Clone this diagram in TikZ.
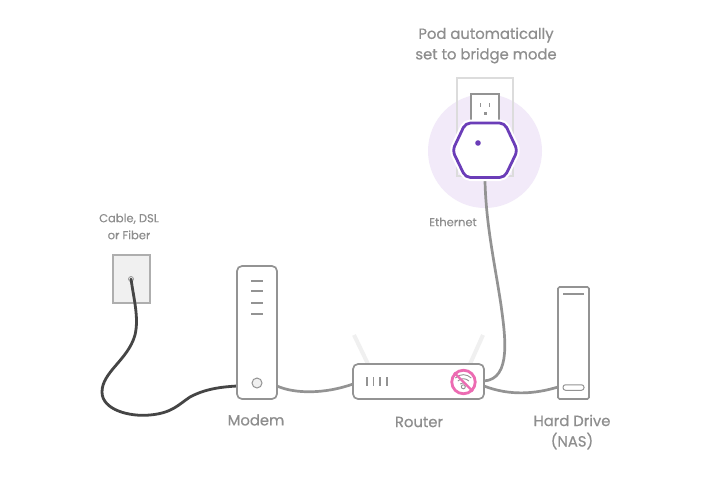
\documentclass[tikz,border=0pt]{standalone}
\usepackage{fontspec}
\setmainfont{Poppins}
\newfontfamily\heavylabel{Poppins}[FakeBold=0.5]
\newfontfamily\lightlabel{Poppins}[FakeBold=0.15]
\usetikzlibrary{calc}
\definecolor{linegray}{HTML}{939393}
\definecolor{textgray}{HTML}{8E8E8E}
\definecolor{palegray}{HTML}{DCDCDC}
\definecolor{antenna}{HTML}{F0F0F0}
\definecolor{podpurple}{HTML}{6B3DB8}
\definecolor{halo}{HTML}{F2EAF9}
\definecolor{nopink}{HTML}{EC6BB2}
\definecolor{coax}{HTML}{454545}
\tikzset{
  x=1pt,y=-1pt,
  device/.style={draw=linegray,line width=1.7pt,fill=white,rounded corners=#1,inner sep=0pt},
  device/.default=4pt,
  led/.style={draw=linegray,line width=1.9pt},
  wire/.style={draw=linegray,line width=2.7pt,line cap=round},
  lbl/.style={text=textgray,font=\heavylabel\fontsize{14.8}{20.5}\selectfont,align=center,inner sep=0pt},
  smalllbl/.style={text=textgray,font=\lightlabel\fontsize{11.5}{17}\selectfont,align=center,inner sep=0pt}
}
\begin{document}
\begin{tikzpicture}
\useasboundingbox[fill=white] (0,0) rectangle (720,480);

% Highlight behind the pod, with the wall plate and outlet on top
\node (glow) at (485,151) [circle,fill=halo,minimum size=114pt,inner sep=0pt] {};
\node (plate) at (485,127) [draw=palegray,line width=1.5pt,minimum width=56pt,minimum height=98pt,inner sep=0pt] {};
\node (outlet) at (485,110) [draw=linegray,line width=1.3pt,fill=white,minimum width=28pt,minimum height=32pt,inner sep=0pt] {};
\draw[linegray,line width=1pt] (480,103) -- (480,107) (489,103) -- (489,107);
\fill[linegray] (483.5,112) rectangle (486.5,114.5);

\coordinate (podbase) at (485,181);
\coordinate (nasport) at (558,387);
\coordinate (routernas) at (484,386);
\coordinate (routerpod) at (484,381);
\coordinate (modemin) at (237,386);
\coordinate (modemout) at (277,386);
\coordinate (routerin) at (353,384);

% Ethernet run from the pod down to the router
\draw[wire] (podbase) .. controls (486,225) and (495,265) .. (501,305)
  .. controls (505,335) and (512,379) .. (routerpod);

% Pod: white margin, then the purple hexagon
\draw[white,line width=7pt,line join=round,rounded corners=5pt,fill=white]
  (465.5,123) -- (504.5,123) -- (517.5,150.5) -- (504.5,177.5) -- (465.5,177.5) -- (452.5,150.5) -- cycle;
\draw[podpurple,line width=2.8pt,line join=round,rounded corners=5pt,fill=white]
  (465.5,123) -- (504.5,123) -- (517.5,150.5) -- (504.5,177.5) -- (465.5,177.5) -- (452.5,150.5) -- cycle;
\fill[podpurple] (478,143) circle (2.8);

% Wall jack and incoming line
\node (jack) at (131.5,279) [draw=linegray!75,line width=1.2pt,fill=antenna,minimum width=37pt,minimum height=48pt,inner sep=0pt] {};
\node (hole) at (131,279) [circle,draw=linegray,line width=.7pt,minimum size=5pt,inner sep=0pt] {};
\draw[coax,line width=2.8pt,line cap=round] (hole.center)
  .. controls (134,300) and (139,318) .. (135,335)
  .. controls (128,360) and (102,372) .. (102,392)
  .. controls (102,410) and (130,417) .. (150,415)
  .. controls (172,413) and (178,405) .. (190,397)
  .. controls (205,389) and (220,387) .. (modemin);

% Antennas behind the router
\coordinate (antLtip) at (354,335);
\coordinate (antLfoot) at (368,364);
\coordinate (antRtip) at (483,335);
\coordinate (antRfoot) at (470,364);
\draw[antenna,line width=4pt] (antLtip) -- (antLfoot);
\draw[antenna,line width=4pt] (antRtip) -- (antRfoot);

% Cables between devices
\draw[wire] (modemout) .. controls (295,394) and (325,394) .. (routerin);
\draw[wire] (routernas) .. controls (510,396) and (535,394) .. (nasport);

% Modem
\node[device=5pt,minimum width=40pt,minimum height=133pt] (modem) at (257,332.5) {};
\foreach \y in {281,291,303,314}
  \draw[led] ($(modem.center)+(-6,\y-332.5)$) -- ($(modem.center)+(6,\y-332.5)$);
\node (modemknob) at (257,383) [circle,draw=linegray,line width=1pt,fill=antenna,minimum size=10pt,inner sep=0pt] {};

% Router
\node[device=5pt,minimum width=131pt,minimum height=35pt] (router) at (418.5,381.5) {};
\foreach \x in {367,373.5,380,387}
  \draw[linegray,line width=1.3pt] (\x,377) -- (\x,386);

% Wi-Fi symbol with the pink "off" mark
\draw[linegray,line width=.9pt] (455.3,378) arc[start angle=-135,end angle=-45,radius=11.3];
\draw[linegray,line width=.9pt] (457.8,381) arc[start angle=-135,end angle=-45,radius=7.8];
\draw[linegray,line width=.9pt] (460.3,384) arc[start angle=-135,end angle=-45,radius=4.2];
\draw[linegray,line width=.9pt] (463.3,386.8) circle (2);
\node (nowifi) at (463.5,382) [circle,draw=nopink,line width=2.8pt,minimum size=23.5pt,inner sep=0pt] {};
\draw[nopink,line width=2.4pt] (nowifi.135) -- (nowifi.-45);

% Hard drive
\node[device=1.5pt,minimum width=31pt,minimum height=112pt] (nas) at (573.5,343) {};
\draw[led] (563,294) -- (584,294);
\node (naspill) at (573.5,387.5) [draw=linegray,line width=1pt,rounded corners=2.5pt,minimum width=21pt,minimum height=5.5pt,inner sep=0pt] {};

% Labels
\node[lbl] (podlabel) at (486,45.5) {Pod automatically\\set to bridge mode};
\node[smalllbl] (ethlabel) at (453,222) {Ethernet};
\node[smalllbl] (cablelabel) at (129,226.5) {Cable, DSL\\or Fiber};
\node[lbl] (modemlabel) at (256,420) {Modem};
\node[lbl] (routerlabel) at (419,422) {Router};
\node[lbl] (naslabel) at (572,432) {Hard Drive\\(NAS)};
\end{tikzpicture}
\end{document}
